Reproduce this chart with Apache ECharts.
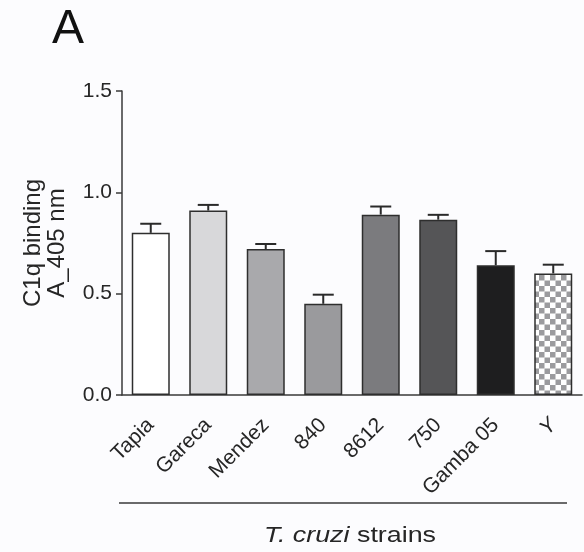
<!DOCTYPE html>
<html>
<head>
<meta charset="utf-8">
<script src="https://cdn.jsdelivr.net/npm/echarts@6/dist/echarts.min.js"></script>
<style>
  html, body { margin: 0; padding: 0; background: #fcfcfe; }
  #chart { width: 584px; height: 552px; }
</style>
</head>
<body>
<div id="chart"></div>
<script>
// C1q binding (A405) per T. cruzi strain, mean with SEM
var strains = ['Tapia', 'Gareca', 'Mendez', '840', '8612', '750', 'Gamba 05', 'Y'];
var binding = [0.80, 0.91, 0.72, 0.45, 0.89, 0.865, 0.64, 0.60];
var sem = [0.045, 0.028, 0.025, 0.045, 0.04, 0.024, 0.07, 0.043];
var yTicks = [0, 0.5, 1.0, 1.5];

var FONT = '"Liberation Sans", Arial, Helvetica, sans-serif';
var INK = '#262626';

// checkerboard fill for the last strain
function checker() {
  var c = document.createElement('canvas');
  var s = 5.5;
  c.width = 11; c.height = 11;
  var g = c.getContext('2d');
  g.fillStyle = '#ffffff';
  g.fillRect(0, 0, 11, 11);
  g.fillStyle = '#9b9b9e';
  g.fillRect(0, 0, s, s);
  g.fillRect(s, s, s, s);
  return c;
}

var fills = ['#ffffff', '#d8d8da', '#a9a9ac', '#9a9a9d', '#7b7b7e', '#555557', '#1e1e1f',
  { image: checker(), repeat: 'repeat' }];

var chart = echarts.init(document.getElementById('chart'), null, { renderer: 'canvas' });

var option = {
  backgroundColor: '#fcfcfe',
  animation: false,
  textStyle: { fontFamily: FONT },
  grid: { left: 122, right: 2, top: 91, bottom: 157, containLabel: false },
  xAxis: {
    type: 'category',
    data: strains,
    boundaryGap: true,
    axisLine: { lineStyle: { color: '#3a3a3a', width: 1.5 } },
    axisTick: { alignWithLabel: true, length: 8, lineStyle: { color: '#3a3a3a', width: 1.5 } },
    axisLabel: {
      rotate: 45, fontSize: 21, color: INK, margin: 27, fontFamily: FONT, interval: 0,
      formatter: function (v) { return v === 'Y' ? '{i|Y}' : v; },
      rich: { i: { fontStyle: 'italic', fontSize: 21, fontFamily: FONT, color: INK } }
    }
  },
  yAxis: {
    type: 'value',
    min: yTicks[0],
    max: yTicks[yTicks.length - 1],
    interval: 0.5,
    splitLine: { show: false },
    axisLine: { show: true, lineStyle: { color: '#3a3a3a', width: 1.5 } },
    axisTick: { show: true, length: 6, lineStyle: { color: '#3a3a3a', width: 1.5 } },
    axisLabel: {
      fontSize: 21, color: INK, margin: 10, fontFamily: FONT,
      formatter: function (v) { return v.toFixed(1); }
    },
    name: 'C1q binding\nA_405 nm',
    nameLocation: 'middle',
    nameRotate: 90,
    nameGap: 53,
    nameTextStyle: { fontSize: 24, color: INK, fontFamily: FONT, lineHeight: 24 }
  },
  series: [
    {
      type: 'custom',
      z: 1,
      renderItem: function (params, api) {
        var i = api.value(0);
        var top = api.coord([i, api.value(1) + api.value(2)]);
        var base = api.coord([i, api.value(1)]);
        var half = 10.5;
        var st = { stroke: '#2a2a2a', lineWidth: 2 };
        return {
          type: 'group',
          children: [
            { type: 'line', shape: { x1: base[0], y1: base[1], x2: top[0], y2: top[1] }, style: st },
            { type: 'line', shape: { x1: top[0] - half, y1: top[1], x2: top[0] + half, y2: top[1] }, style: st }
          ]
        };
      },
      data: binding.map(function (v, i) { return [i, v, sem[i]]; })
    },
    {
      type: 'bar',
      z: 2,
      barWidth: 38,
      data: binding.map(function (v, i) {
        return { value: v, itemStyle: { color: fills[i], borderColor: '#2e2e2e', borderWidth: 1.5 } };
      })
    }
  ],
  graphic: [
    {
      type: 'text', left: 52, top: 6,
      style: { text: 'A', fontSize: 48, fontFamily: FONT, fill: '#111' }
    },
    {
      type: 'line', shape: { x1: 119, y1: 503, x2: 567, y2: 503 },
      style: { stroke: '#3a3a3a', lineWidth: 1.5 }
    },
    {
      type: 'text', x: 350, y: 536, scaleX: 1.22,
      style: {
        text: '{i|T. cruzi} strains',
        fontSize: 22, fontFamily: FONT, fill: INK,
        align: 'center', verticalAlign: 'middle',
        rich: { i: { fontStyle: 'italic', fontSize: 22, fontFamily: FONT, fill: INK } }
      }
    }
  ]
};

chart.setOption(option);
</script>
</body>
</html>
